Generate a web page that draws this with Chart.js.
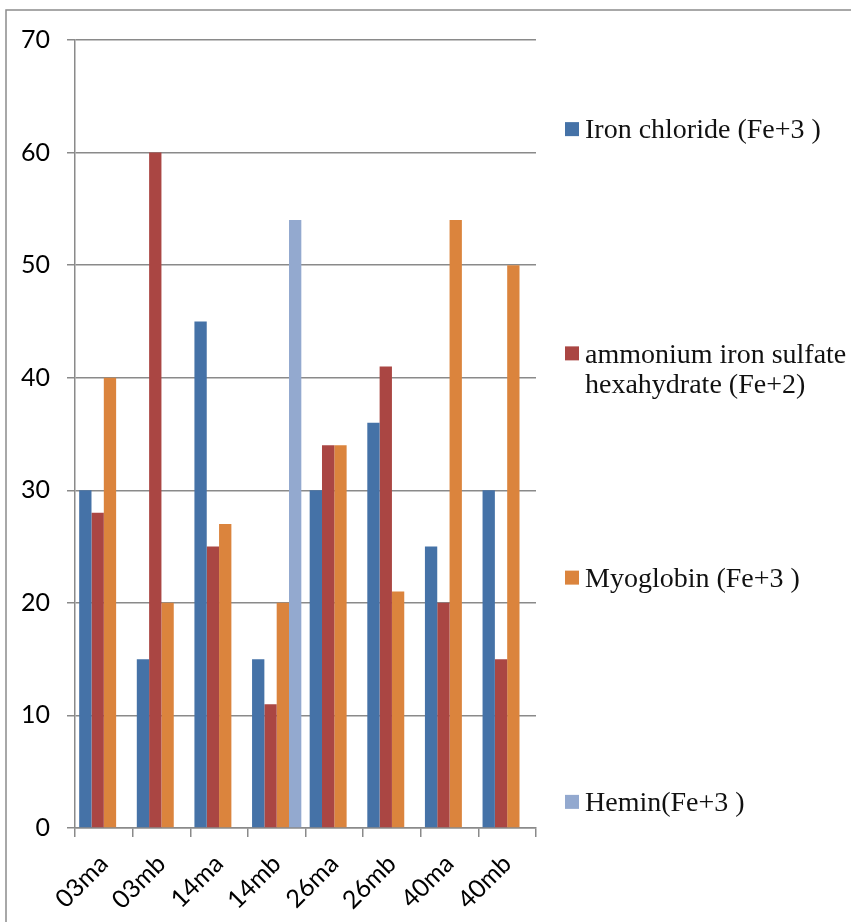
<!DOCTYPE html>
<html>
<head>
<meta charset="utf-8">
<script src="https://cdn.jsdelivr.net/npm/chart.js@4/dist/chart.umd.min.js"></script>
<style>
  html, body { margin: 0; padding: 0; background: #fff; overflow: hidden; }
  #wrap { position: relative; width: 851px; height: 922px; }
</style>
</head>
<body>
<div id="wrap"><canvas id="c" width="851" height="922"></canvas></div>
<script>
// Samples and the four iron sources
const categories = ['03ma', '03mb', '14ma', '14mb', '26ma', '26mb', '40ma', '40mb'];
const seriesNames = [
  'Iron chloride (Fe+3 )',
  'ammonium iron sulfate hexahydrate (Fe+2)',
  'Myoglobin (Fe+3 )',
  'Hemin(Fe+3 )'
];
const ironChloride        = [30, 15, 45, 15, 30, 36, 25, 30];
const ammoniumIronSulfate = [28, 60, 25, 11, 34, 41, 20, 15];
const myoglobin           = [40, 20, 27, 20, 34, 21, 54, 50];
const hemin               = [null, null, null, 54, null, null, null, null];
const yTicks = [0, 10, 20, 30, 40, 50, 60, 70];

const seriesValues = [ironChloride, ammoniumIronSulfate, myoglobin, hemin];
const seriesColors = ['#4572A7', '#AA4643', '#DB843D', '#93A9CF'];
const axisGrey = '#8a8a8a';

// Outer frame around the whole chart
const framePlugin = {
  id: 'frame',
  beforeDraw(chart) {
    const ctx = chart.ctx;
    ctx.save();
    ctx.fillStyle = '#ffffff';
    ctx.fillRect(0, 0, chart.width, chart.height);
    ctx.strokeStyle = '#8c8c8c';
    ctx.lineWidth = 1.5;
    ctx.strokeRect(6, 10, chart.width + 50, chart.height + 50);
    ctx.restore();
  }
};

// Legend spread down the right-hand side, one slot per series
const sideLegendPlugin = {
  id: 'sideLegend',
  afterDraw(chart, args, opts) {
    const ctx = chart.ctx;
    const items = chart.data.datasets;
    const slot = (opts.bottom - opts.top) / items.length;
    ctx.save();
    ctx.font = opts.font;
    ctx.textBaseline = 'middle';
    ctx.textAlign = 'left';
    items.forEach((ds, i) => {
      const cy = opts.top + slot * (i + 0.5);
      ctx.fillStyle = ds.backgroundColor;
      ctx.fillRect(opts.x, cy - opts.box / 2, opts.box, opts.box);
      // wrap the label onto several lines if it is too wide
      const words = ds.label.split(' ');
      const lines = [];
      let cur = '';
      words.forEach(w => {
        const test = cur ? cur + ' ' + w : w;
        if (cur && ctx.measureText(test).width > opts.maxWidth) {
          lines.push(cur);
          cur = w;
        } else {
          cur = test;
        }
      });
      if (cur) lines.push(cur);
      ctx.fillStyle = '#111';
      const tx = opts.x + opts.box + opts.gap;
      lines.forEach((ln, k) => ctx.fillText(ln, tx, cy + 2 + k * opts.lineHeight));
    });
    ctx.restore();
  }
};

function drawChart() {
  new Chart(document.getElementById('c'), {
    type: 'bar',
    data: {
      labels: categories,
      datasets: seriesValues.map((vals, i) => ({
        label: seriesNames[i],
        data: vals,
        backgroundColor: seriesColors[i],
        borderWidth: 0,
        categoryPercentage: 0.855,
        barPercentage: 1.0
      }))
    },
    options: {
      responsive: false,
      animation: false,
      devicePixelRatio: 1,
      layout: { padding: { left: 0, top: 40, right: 315, bottom: 0 } },
      plugins: {
        legend: { display: false },
        tooltip: { enabled: false },
        sideLegend: {
          x: 565, box: 14, gap: 6, top: 17, bottom: 914,
          font: '28px "Liberation Serif"', lineHeight: 30, maxWidth: 268
        }
      },
      scales: {
        x: {
          grid: {
            display: true,
            drawOnChartArea: false,
            drawTicks: true,
            offset: true,
            tickLength: 9,
            color: axisGrey,
            lineWidth: 1.5
          },
          border: { display: true, color: axisGrey, width: 1.5 },
          ticks: {
            maxRotation: 45,
            minRotation: 45,
            padding: 12,
            color: '#000',
            font: { family: 'Lato', size: 25 }
          },
          afterFit(scale) { scale.height = 94; }
        },
        y: {
          min: 0,
          max: 70,
          afterBuildTicks(scale) { scale.ticks = yTicks.map(v => ({ value: v })); },
          grid: {
            color: axisGrey,
            lineWidth: 1.5,
            drawTicks: true,
            tickLength: 8
          },
          border: { display: true, color: axisGrey, width: 1.5 },
          ticks: {
            padding: 17,
            color: '#000',
            font: { family: 'Lato', size: 25 }
          },
          afterFit(scale) { scale.width = 75; }
        }
      }
    },
    plugins: [framePlugin, sideLegendPlugin]
  });
}

Promise.all([
  document.fonts.load('25px Lato'),
  document.fonts.load('28px "Liberation Serif"')
]).then(drawChart, drawChart);
</script>
</body>
</html>
